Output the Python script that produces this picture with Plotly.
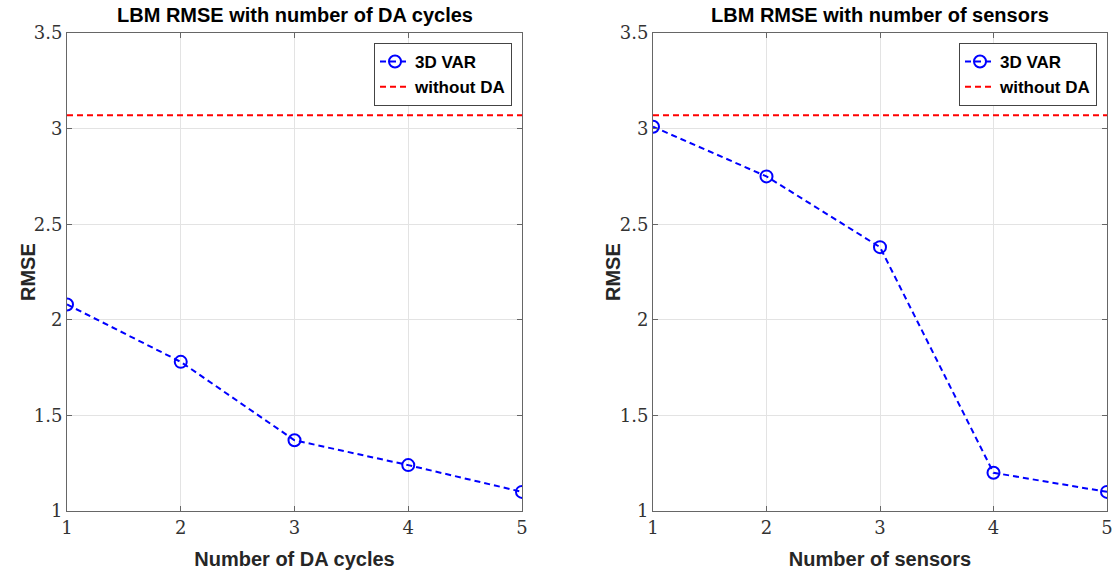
import plotly.graph_objects as go

x_vals = [1, 2, 3, 4, 5]
rmse_cycles = [2.08, 1.78, 1.37, 1.24, 1.10]
rmse_sensors = [3.01, 2.75, 2.38, 1.20, 1.10]
without_da = 3.07
y_ticks = [1, 1.5, 2, 2.5, 3, 3.5]
y_ticklabels = ["1", "1.5", "2", "2.5", "3", "3.5"]
titles = ["LBM RMSE with number of DA cycles", "LBM RMSE with number of sensors"]
x_titles = ["Number of DA cycles", "Number of sensors"]

W, H = 1119, 570
ML, MR, MT, MB = 67, 12, 33, 59
PW, PH = W - ML - MR, H - MT - MB

fig = go.Figure()

for i, (yv, xa, ya, lg) in enumerate([(rmse_cycles, "x", "y", "legend"),
                                      (rmse_sensors, "x2", "y2", "legend2")]):
    fig.add_trace(go.Scatter(
        x=x_vals, y=yv, xaxis=xa, yaxis=ya, legend=lg, name="<b>3D VAR</b>",
        mode="lines+markers",
        line=dict(color="#0000ff", width=2, dash="6px,4px"),
        marker=dict(symbol="circle-open", size=12, color="#0000ff", line=dict(width=2)),
    ))
    fig.add_trace(go.Scatter(
        x=[x_vals[0], x_vals[-1]], y=[without_da, without_da], xaxis=xa, yaxis=ya,
        legend=lg, name="<b>without DA</b>", mode="lines",
        line=dict(color="#ff0000", width=2, dash="6px,4px"),
    ))

domains = [(0.0, (522 - ML) / PW), ((653 - ML) / PW, 1.0)]

axis_common = dict(
    showline=True, linecolor="#666666", linewidth=1, mirror="ticks",
    ticks="inside", ticklen=5, tickcolor="#666666",
    showgrid=True, gridcolor="#e3e3e3", gridwidth=1, zeroline=False,
    tickfont=dict(family="DejaVu Serif", size=18, color="#333333"),
    title_font=dict(family="Liberation Sans", size=20, color="#262626"),
    automargin=False,
)

for i in range(2):
    sx = "" if i == 0 else "2"
    fig.layout["xaxis" + sx] = go.layout.XAxis(
        domain=list(domains[i]), anchor="y" + sx, range=[1, 5],
        tickvals=x_vals, ticktext=[str(v) for v in x_vals],
        title=dict(text="<b>" + x_titles[i] + "</b>", standoff=16), **axis_common)
    fig.layout["yaxis" + sx] = go.layout.YAxis(
        domain=[0, 1], anchor="x" + sx, range=[1, 3.5],
        tickvals=y_ticks, ticktext=y_ticklabels, **axis_common)

legend_common = dict(
    bgcolor="white", bordercolor="#444444", borderwidth=1,
    font=dict(family="Liberation Sans", size=17, color="#000000"),
    xanchor="right", yanchor="top", tracegroupgap=0, itemwidth=30,
    xref="paper", yref="paper",
)
fig.update_layout(
    legend=dict(x=(512 - ML) / PW, y=1 - (43 - MT) / PH, **legend_common),
    legend2=dict(x=(1097 - ML) / PW, y=1 - (43 - MT) / PH, **legend_common),
)

ytitle_px = [28, 613]
for i in range(2):
    cx = (domains[i][0] + domains[i][1]) / 2
    fig.add_annotation(
        text="<b>" + titles[i] + "</b>", x=cx, y=1 + (MT - 15) / PH, xref="paper", yref="paper",
        showarrow=False, font=dict(family="Liberation Sans", size=20, color="#000000"),
        xanchor="center", yanchor="middle")
    fig.add_annotation(
        text="<b>RMSE</b>", x=(ytitle_px[i] - ML) / PW, y=0.5, xref="paper", yref="paper",
        showarrow=False, textangle=-90,
        font=dict(family="Liberation Sans", size=20, color="#262626"),
        xanchor="center", yanchor="middle")

fig.update_layout(
    width=W, height=H, margin=dict(l=ML, r=MR, t=MT, b=MB, autoexpand=False),
    paper_bgcolor="white", plot_bgcolor="white",
)

fig.write_html("out.html")
